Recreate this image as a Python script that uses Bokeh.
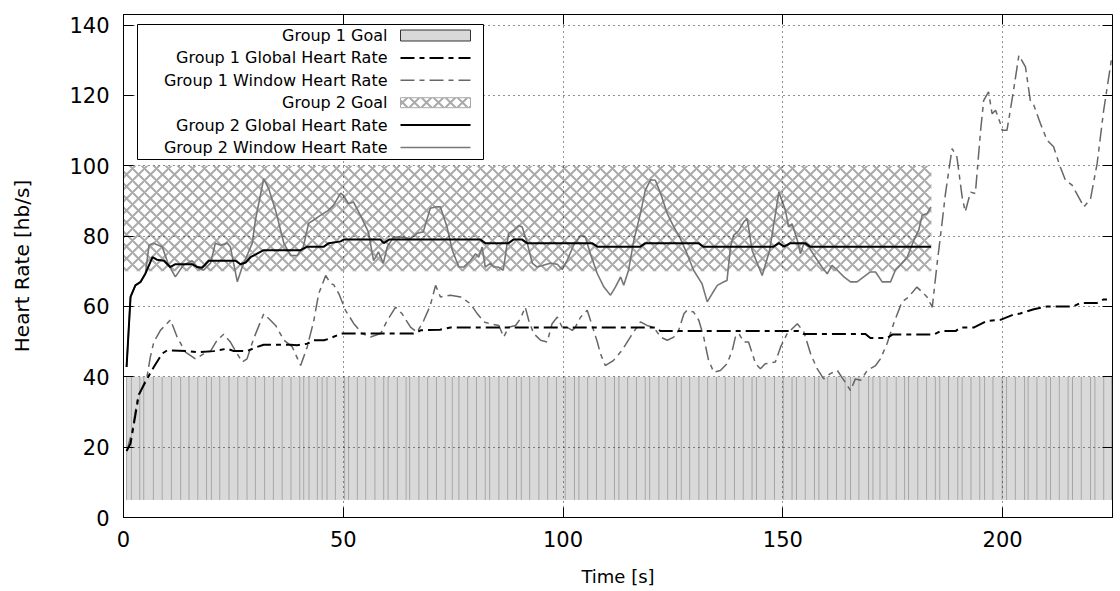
from bokeh.plotting import figure
from bokeh.models import (Range1d, FixedTicker, LinearAxis, BoxAnnotation, Label, Arrow)
from bokeh.embed import file_html
from bokeh.resources import INLINE

FONT = "DejaVu Sans"

# ---------------- data ----------------
goal1_t = [0.7, 1.8, 3.7, 4.6, 6.8, 8.8, 10.9, 13.0, 14.9, 16.9, 18.9, 20.0, 21.9, 24.0,
           26.0, 28.1, 30.0, 32.1, 34.1, 36.1, 38.1, 40.1, 41.0, 42.2, 44.1, 45.2, 46.3,
           48.2, 50.3, 51.2, 53.2, 55.1, 57.2, 59.2, 60.2, 62.3, 64.3, 65.1, 67.2, 69.2,
           71.2, 73.2, 74.8, 76.3, 78.3, 80.3, 82.3, 83.3, 85.4, 87.4, 89.4, 90.5, 92.4,
           94.5, 96.5, 98.5, 100.5, 102.6, 103.6, 105.6, 107.6, 109.6, 111.7, 112.7, 114.7,
           116.7, 118.7, 119.7, 121.8, 123.8, 125.8, 126.9, 128.8, 130.9, 132.9, 134.9,
           136.9, 139.0, 141.0, 143.0, 144.0, 146.0, 148.1, 150.1, 152.1, 153.1, 155.1,
           157.2, 158.2, 160.2, 162.2, 164.2, 165.4, 167.3, 169.5, 170.5, 172.1, 173.7,
           175.8, 177.7, 178.6, 180.7, 182.7, 184.7, 185.7, 187.7, 189.8, 190.8, 192.8,
           194.8, 195.9, 197.8, 199.9, 200.9, 202.9, 205.0, 205.8, 207.8, 209.9, 210.9,
           212.9, 214.9, 215.9, 217.9, 220.0, 221.0, 223.0, 224.8]
goal1_low, goal1_high = 5, 40

goal2_start, goal2_end = 0, 183.8
goal2_low, goal2_high = 70, 100

g1_global_t = [0.7, 1.6, 3.5, 5.8, 6.9, 8.8, 9.9, 14.5, 16.8, 20.5, 23.6, 25.1, 28.1, 30.4,
               31.9, 38.0, 39.5, 41.8, 43.3, 45.6, 46.7, 48.6, 49.4, 66.0, 67.6, 72.0, 74.4,
               121.0, 122.2, 153.6, 154.7, 168.8, 169.9, 173.7, 174.9, 184.3, 185.9, 189.3,
               190.4, 193.4, 196.5, 199.5, 202.5, 204.0, 207.1, 210.1, 216.1, 217.7, 221.5,
               223.0, 224.9]
g1_global_hr = [18.9, 21, 35, 40.4, 42.8, 46.6, 47.5, 47.3, 47, 47.3, 48, 47.3, 47.3, 48.5,
                49.1, 49.1, 49, 49.4, 50.4, 50.4, 50.8, 51.8, 52.3, 52.3, 53.2, 53.4, 54,
                54, 53, 53, 52.2, 52.2, 51, 51, 52, 52, 53, 53, 54, 54, 55.9, 56.2, 57.7, 58,
                59.2, 60, 60, 61, 61, 62, 62]

g1_window_t = [0.8, 2.0, 3.1, 4.3, 5.4, 6.1, 6.9, 8.4, 10.7, 12.2, 14.1, 16.4, 18.3, 19.8,
               21.3, 22.8, 24.3, 25.5, 27.0, 28.1, 29.6, 31.9, 33.1, 34.6, 36.5, 38.4, 40.3,
               41.8, 43.3, 44.4, 46.0, 47.1, 47.8, 49.0, 50.5, 52.4, 54.3, 56.2, 58.5, 60.0,
               61.9, 63.4, 65.3, 66.8, 68.3, 69.8, 71.0, 72.1, 74.4, 76.7, 78.9, 80.5, 82.0,
               83.9, 85.4, 86.5, 87.6, 89.2, 90.3, 91.4, 92.2, 93.3, 94.9, 96.4, 97.5, 98.7,
               99.8, 100.9, 102.1, 102.8, 104.0, 105.5, 106.6, 107.8, 108.5, 109.6, 111.5,
               113.4, 115.3, 117.6, 119.1, 120.6, 122.2, 123.7, 125.2, 126.3, 127.5, 128.2,
               129.7, 130.9, 132.0, 133.1, 134.3, 135.8, 137.3, 138.5, 139.2, 140.0, 141.1,
               142.2, 143.8, 144.9, 146.0, 148.3, 149.5, 151.0, 153.3, 154.8, 156.3, 157.8,
               159.3, 160.8, 162.4, 163.9, 165.4, 166.5, 167.7, 169.2, 171.1, 172.2, 173.7,
               175.2, 177.1, 178.6, 180.5, 181.7, 182.8, 184.0, 185.1, 186.2, 187.0, 188.5,
               189.6, 190.8, 191.5, 192.7, 193.8, 195.0, 195.7, 196.8, 197.6, 198.4, 199.5,
               199.9, 201.0, 202.5, 203.7, 205.2, 206.3, 207.1, 208.6, 210.1, 211.6, 213.1,
               214.3, 215.8, 217.3, 218.5, 220.0, 221.5, 223.0, 224.9]
g1_window_hr = [19, 24.8, 33.3, 37, 40.4, 45.6, 49.9, 53.2, 56.2, 51.3, 47, 45.1, 46.6, 47.3,
                50.4, 52.1, 49.9, 47.3, 44.2, 45.1, 50.8, 57.9, 56.5, 54.6, 50.4, 48.5, 43.2,
                48.5, 56, 63.6, 68.8, 66.5, 66.2, 63.6, 58.9, 55.1, 52.3, 51.3, 52.3, 56,
                59.8, 57.9, 54.1, 52.7, 56, 60.3, 66, 62.7, 63.2, 62.7, 60.8, 57.9, 55.6,
                54.9, 54.6, 51.3, 54.1, 54.6, 56.5, 59.8, 56, 52.3, 50.4, 49.9, 55.1, 57,
                54.1, 54.1, 53.2, 54.1, 57, 58.9, 54.6, 49.9, 46.6, 43.2, 44.7,
                47.5, 51.3, 55.6, 54.6, 54.1, 51.3, 50.4, 51.3, 53.2, 57.9, 58.9,
                58.4, 56, 51.3, 44.7, 41.3, 41.8, 43.7, 47.5, 51.3, 52.3, 49.9,
                49.9, 43.7, 42.3, 43.7, 44.2, 48.5, 52.3, 55.1, 52.7, 46.6, 42.3,
                39.4, 40.9, 41.8, 39, 36.1, 39.4, 39, 41.8, 43.2, 45.1, 49.4,
                55.1, 61.3, 62.7, 65.5, 64.1, 62.7, 59.8, 72.2, 83.5, 92.1, 104.9,
                102.5, 91.1, 86.9, 92.5, 92.1, 110.1, 118.6, 121, 114.8, 115.8, 112,
                110.1, 110.1, 121.5, 131.4, 128.1, 118.6, 117.2, 112, 107.3, 105.4, 99.7,
                95.9, 94.5, 91.1, 88.3, 90.6, 100.6, 115.8, 131.4]

g2_global_t = [0.7, 1.6, 2.7, 3.9, 5.0, 6.6, 7.6, 9.2, 10.6, 11.8, 15.6, 16.8, 17.9, 19.4,
               25.5, 26.6, 27.8, 28.9, 30.4, 31.9, 40.3, 41.8, 45.6, 46.7, 49.4, 50.1, 58.5,
               59.2, 60.4, 81.2, 82.3, 87.6, 88.7, 90.7, 91.8, 106.6, 107.8, 117.6, 118.7,
               130.8, 131.9, 147.9, 149.1, 150.3, 151.7, 155.1, 156.2, 183.7]
g2_global_hr = [42.8, 62.7, 66, 67, 69.4, 74, 73.3, 73, 71.2, 72, 72, 71.2, 71, 73,
                73, 72, 72.5, 74, 75, 76, 76, 77, 77, 78, 78.5, 79, 79,
                78, 79, 79, 78, 78, 79, 79, 78, 78, 77, 77, 78,
                78, 77, 77, 78, 77, 78, 78, 77, 77]

g2_window_t = [0.7, 1.6, 2.7, 3.9, 5.0, 5.8, 6.8, 8.8, 10.2, 11.8, 13.6, 15.6, 17.1, 18.2,
               19.8, 20.9, 22.1, 23.6, 24.3, 25.9, 27.0, 29.3, 30.0, 31.9, 33.0, 34.6, 36.5,
               38.0, 39.5, 40.9, 42.1, 43.2, 44.8, 46.6, 47.8, 49.4, 50.0, 51.2, 52.3, 53.9,
               55.7, 56.9, 58.0, 59.1, 60.0, 61.4, 63.0, 65.3, 66.8, 68.2, 69.8, 71.0, 72.1,
               73.6, 74.8, 76.3, 77.4, 78.9, 80.1, 80.8, 81.6, 82.3, 83.5, 84.2, 85.3, 86.4,
               87.6, 88.7, 89.9, 90.7, 91.8, 93.0, 94.1, 95.5, 97.1, 98.7, 99.8, 100.9,
               102.4, 104.0, 105.1, 106.2, 107.8, 109.3, 110.8, 111.9, 113.1, 113.8, 114.9,
               116.1, 117.6, 118.7, 119.9, 121.0, 122.2, 123.7, 125.2, 126.7, 128.2, 129.7,
               131.6, 132.8, 133.9, 135.1, 136.6, 137.3, 138.1, 138.8, 140.0, 141.1, 141.9,
               143.0, 144.2, 145.3, 147.0, 149.1, 150.6, 151.3, 152.1, 153.3, 154.0, 154.8,
               155.9, 157.4, 158.9, 160.1, 161.2, 162.4, 163.9, 165.4, 166.9, 168.4, 169.9,
               171.1, 172.6, 174.5, 175.6, 176.7, 178.3, 179.8, 180.9, 181.7, 182.8, 183.7]
g2_window_hr = [42.8, 62.7, 66, 67, 69.4, 77.4, 78, 77, 72, 68.4, 71.7, 73, 70.8, 70.3,
                72.3, 78, 77.4, 78, 77, 67, 71.2, 78, 84.5, 96.3, 93.6, 87.3, 77.9,
                74.5, 74.5, 76.9, 83.6, 84.5, 85.9, 87.3, 88.8, 92.2, 91.6, 89.2, 89.7, 85.9,
                81.2, 73, 75.5, 72.3, 76.9, 79.7, 79.7, 79.3, 80.8, 81.2, 87.9, 88.3, 88.3,
                82.6, 76, 71.2, 71.2, 73, 75, 74, 76.9, 71.2, 72.3, 71.2, 71.2, 70.3,
                80.7, 81.6, 83, 82.6, 78.3, 72.3, 71.2, 71.7, 72.3, 72, 70.5, 73,
                77.4, 80.2, 79.7, 75, 69.3, 65.5, 63.2, 65.5, 68.4, 66, 70.3,
                78.8, 86.4, 93, 96, 95.9, 92.1, 86.4, 82.6, 79.3, 75, 70.3,
                66.5, 61.3, 63.6, 66, 67, 67.4, 76.9, 80.2, 81.6, 84, 85,
                76, 72.2, 68.8, 76, 92.5, 87.3, 82.6, 83.5, 78.8, 75, 77.9,
                76.9, 74, 71.2, 69.3, 71.7, 70.3, 68.4, 67, 67, 68.4, 69.8,
                69.8, 67, 67, 70.3, 71.7, 74, 78.8, 81.6, 85.9, 86.4, 88.3]

x_ticks = [0, 50, 100, 150, 200]
y_ticks = [0, 20, 40, 60, 80, 100, 120, 140]

legend_labels = ["Group 1 Goal", "Group 1 Global Heart Rate", "Group 1 Window Heart Rate",
                 "Group 2 Goal", "Group 2 Global Heart Rate", "Group 2 Window Heart Rate"]

# ---------------- styles ----------------
C_G1_FILL = "#d9d9d9"
C_G1_EDGE = "#a6a6a6"
C_HATCH = "#aaaaaa"
DASHDOT = "14 5 5 5"

p = figure(width=1120, height=591, x_range=Range1d(0, 225), y_range=Range1d(0, 143),
           output_backend="svg", toolbar_location=None,
           min_border_left=123, min_border_right=8, min_border_top=14, min_border_bottom=74)
p.background_fill_color = "white"
p.border_fill_color = "white"
p.outline_line_color = "black"
p.outline_line_width = 1

# Group 1 goal boxes
p.quad(left=goal1_t[:-1], right=goal1_t[1:], bottom=goal1_low, top=goal1_high,
       fill_color=C_G1_FILL, line_color=None)
p.segment(x0=goal1_t, y0=goal1_low, x1=goal1_t, y1=goal1_high,
          line_color=C_G1_EDGE, line_width=1)

# Group 2 goal hatched band
p.quad(left=[goal2_start], right=[goal2_end], bottom=[goal2_low], top=[goal2_high],
       fill_color=None, line_color=None, hatch_pattern="diagonal_cross",
       hatch_color=C_HATCH, hatch_weight=2, hatch_scale=12)

# lines
p.line(g1_window_t, g1_window_hr, line_color="#666666", line_width=1.5, line_dash=DASHDOT)
p.line(g2_window_t, g2_window_hr, line_color="#777777", line_width=1.6)
p.line(g1_global_t, g1_global_hr, line_color="black", line_width=2, line_dash=DASHDOT)
p.line(g2_global_t, g2_global_hr, line_color="black", line_width=2)

# axes
for ax in (p.xaxis[0], p.yaxis[0]):
    ax.major_tick_in = 10
    ax.major_tick_out = 0
    ax.minor_tick_line_color = None
    ax.axis_line_color = "black"
    ax.major_tick_line_color = "black"
    ax.major_label_text_font = FONT
    ax.major_label_text_font_size = "21px"
    ax.major_label_text_color = "black"
    ax.axis_label_text_font = FONT
    ax.axis_label_text_font_style = "normal"
    ax.axis_label_text_color = "black"
p.xaxis.ticker = FixedTicker(ticks=x_ticks)
p.yaxis.ticker = FixedTicker(ticks=y_ticks)
p.xaxis.axis_label = "Time [s]"
p.yaxis.axis_label = "Heart Rate [hb/s]"
p.xaxis.axis_label_text_font_size = "18px"
p.yaxis.axis_label_text_font_size = "20px"
p.xaxis.major_label_standoff = 13
p.yaxis.major_label_standoff = 14
p.xaxis.axis_label_standoff = 16
p.yaxis.axis_label_standoff = 32

top_ax = LinearAxis(ticker=FixedTicker(ticks=x_ticks))
right_ax = LinearAxis(ticker=FixedTicker(ticks=y_ticks))
for ax in (top_ax, right_ax):
    ax.major_tick_in = 10
    ax.major_tick_out = 0
    ax.minor_tick_line_color = None
    ax.major_label_text_font_size = "1px"
    ax.major_label_text_color = None
    ax.major_label_standoff = 0
    ax.axis_line_color = None
p.add_layout(top_ax, "above")
p.add_layout(right_ax, "right")

# grid (dotted, in front of the data)
for g, t in ((p.xgrid, x_ticks), (p.ygrid, y_ticks)):
    g.ticker = FixedTicker(ticks=t)
    g.grid_line_color = "black"
    g.grid_line_dash = "1 4"
    g.grid_line_width = 1
    g.grid_line_alpha = 0.85
    g.level = "guide"

# ---------------- legend (text right-aligned, sample on the right) ----------------
LEG_L, LEG_R, LEG_T, LEG_B = 14, 360, 493, 358
p.add_layout(BoxAnnotation(left=LEG_L, right=LEG_R, top=LEG_T, bottom=LEG_B,
                           left_units="screen", right_units="screen",
                           top_units="screen", bottom_units="screen",
                           fill_color="white", fill_alpha=1,
                           line_color="black", line_width=1, line_alpha=1))
row0, row_step = 482, 22.4
text_x, s0, s1 = 264, 277, 347
rows = [row0 - i * row_step for i in range(6)]
for lab, y in zip(legend_labels, rows):
    p.add_layout(Label(x=text_x, y=y, x_units="screen", y_units="screen", text=lab,
                       text_align="right", text_baseline="middle",
                       text_font=FONT, text_font_size="16px", text_color="black"))

# Group 1 goal sample
p.add_layout(BoxAnnotation(left=s0, right=s1, top=rows[0] + 5.5, bottom=rows[0] - 5.5,
                           left_units="screen", right_units="screen",
                           top_units="screen", bottom_units="screen",
                           fill_color=C_G1_FILL, fill_alpha=1,
                           line_color="#333333", line_width=1, line_alpha=1))
# Group 2 goal sample
p.add_layout(BoxAnnotation(left=s0, right=s1, top=rows[3] + 5, bottom=rows[3] - 5,
                           left_units="screen", right_units="screen",
                           top_units="screen", bottom_units="screen",
                           fill_color="white", fill_alpha=1,
                           hatch_pattern="diagonal_cross", hatch_color=C_HATCH,
                           hatch_weight=2, hatch_scale=12,
                           line_color=C_HATCH, line_width=1, line_alpha=1))

line_samples = [(1, "black", 2, DASHDOT), (2, "#666666", 1.5, DASHDOT),
                (4, "black", 2, "solid"), (5, "#777777", 1.6, "solid")]
for i, col, w, dash in line_samples:
    p.add_layout(Arrow(x_start=s0, y_start=rows[i], x_end=s1, y_end=rows[i],
                       start_units="screen", end_units="screen", end=None,
                       line_color=col, line_width=w, line_dash=dash))

open("out.html", "w").write(file_html(p, INLINE))
